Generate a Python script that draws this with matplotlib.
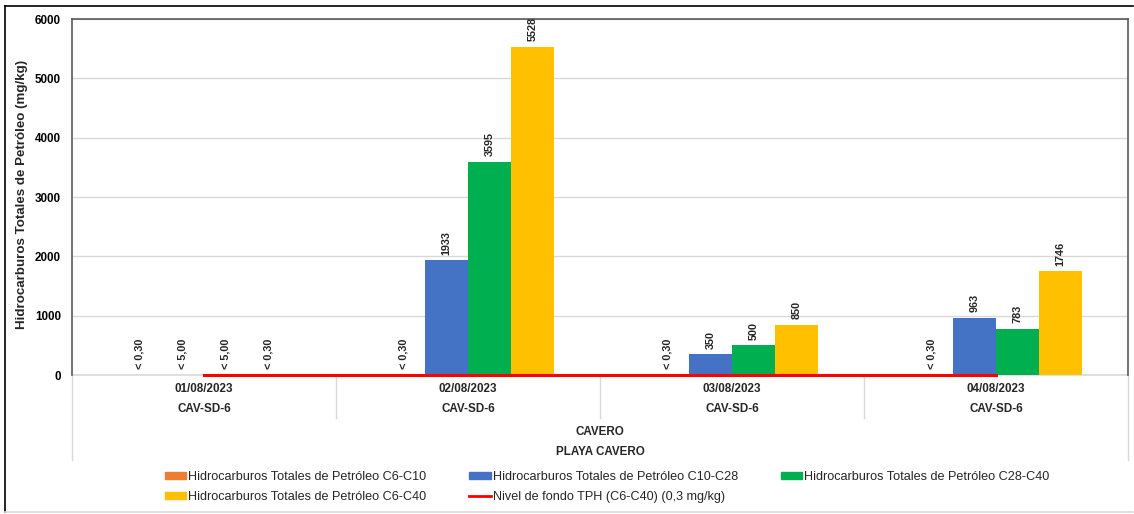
import matplotlib
matplotlib.use("Agg")
import matplotlib.pyplot as plt
from matplotlib.patches import Patch
from matplotlib.lines import Line2D
import numpy as np

plt.rcParams['font.family'] = ['Liberation Sans', 'DejaVu Sans']

# data
dates = ['01/08/2023', '02/08/2023', '03/08/2023', '04/08/2023']
stations = ['CAV-SD-6', 'CAV-SD-6', 'CAV-SD-6', 'CAV-SD-6']
zone = 'CAVERO'
beach = 'PLAYA CAVERO'

series_names = ['Hidrocarburos Totales de Petróleo C6-C10',
                'Hidrocarburos Totales de Petróleo C10-C28',
                'Hidrocarburos Totales de Petróleo C28-C40',
                'Hidrocarburos Totales de Petróleo C6-C40']
c6_c10 = [0, 0, 0, 0]
c10_c28 = [0, 1933, 350, 963]
c28_c40 = [0, 3595, 500, 783]
c6_c40 = [0, 5528, 850, 1746]

lbl_c6_c10 = ['< 0,30', '< 0,30', '< 0,30', '< 0,30']
lbl_c10_c28 = ['< 5,00', '1933', '350', '963']
lbl_c28_c40 = ['< 5,00', '3595', '500', '783']
lbl_c6_c40 = ['< 0,30', '5528', '850', '1746']

background_name = 'Nivel de fondo TPH (C6-C40) (0,3 mg/kg)'
background = [0.3, 0.3, 0.3, 0.3]

colors = ['#ED7D31', '#4472C4', '#00B050', '#FFC000']

W, H = 1134, 514
fig = plt.figure(figsize=(W / 100, H / 100), dpi=100)
ax = fig.add_axes([72 / W, 1 - 375 / H, (1128 - 72) / W, (375 - 19) / H])

x = np.arange(len(dates))
bw = 0.163
all_vals = [c6_c10, c10_c28, c28_c40, c6_c40]
all_lbls = [lbl_c6_c10, lbl_c10_c28, lbl_c28_c40, lbl_c6_c40]
for i, (vals, lbls) in enumerate(zip(all_vals, all_lbls)):
    pos = x + (i - 1.5) * bw
    ax.bar(pos, vals, bw, color=colors[i], zorder=2)
    for px, v, t in zip(pos, vals, lbls):
        ax.annotate(t, (px, v), xytext=(0, 4), textcoords='offset points',
                    rotation=90, ha='center', va='bottom', fontsize=7.8,
                    fontweight='bold', color='#262626', zorder=4)

ax.plot(x, background, color='#FF0000', lw=2.2, zorder=3, clip_on=False)

ax.set_xlim(-0.5, 3.5)
ax.set_ylim(0, 6000)
ax.set_yticks(np.arange(0, 6001, 1000))
ax.set_yticklabels([str(v) for v in range(0, 6001, 1000)], fontsize=8.4, fontweight='bold')
ax.tick_params(axis='y', length=0, pad=8)
ax.set_xticks([])
ax.grid(axis='y', color='#d9d9d9', lw=1, zorder=0)
for s in ['left', 'top', 'right']:
    ax.spines[s].set_color('#595959')
    ax.spines[s].set_linewidth(1.2)
ax.spines['bottom'].set_color('#d9d9d9')
ax.spines['bottom'].set_linewidth(1.2)
ax.spines['bottom'].set_zorder(1)

# multi-level category axis
tr = ax.get_xaxis_transform()
ah = 375 - 19
for xi, d, s in zip(x, dates, stations):
    ax.text(xi, -(389 - 375) / ah, d, transform=tr, ha='center', va='center',
            fontsize=8.4, fontweight='bold', color='#262626')
    ax.text(xi, -(409 - 375) / ah, s, transform=tr, ha='center', va='center',
            fontsize=8.4, fontweight='bold', color='#262626')
ax.text(1.5, -(432 - 375) / ah, zone, transform=tr, ha='center', va='center',
        fontsize=8.4, fontweight='bold', color='#262626')
ax.text(1.5, -(452 - 375) / ah, beach, transform=tr, ha='center', va='center',
        fontsize=8.4, fontweight='bold', color='#262626')
for b in [0.5, 1.5, 2.5]:
    ax.plot([b, b], [0, -(418 - 375) / ah], transform=tr, color='#d9d9d9',
            lw=1, clip_on=False)
for b in [-0.5, 3.5]:
    ax.plot([b, b], [0, -(460 - 375) / ah], transform=tr, color='#d9d9d9',
            lw=1, clip_on=False)

fig.text(22 / W, 1 - 194 / H, 'Hidrocarburos Totales de Petróleo (mg/kg)',
         rotation=90, ha='center', va='center', fontsize=9.6, fontweight='bold',
         color='#262626')

# legend (row-major order)
h = [Patch(color=colors[0]), Patch(color=colors[3]),
     Patch(color=colors[1]), Line2D([], [], color='#FF0000', lw=2),
     Patch(color=colors[2])]
l = [series_names[0], series_names[3], series_names[1], background_name, series_names[2]]
fig.legend(h, l, ncol=3, loc='center', bbox_to_anchor=(607 / W, 1 - 487 / H),
           frameon=False, fontsize=9.1, handlelength=1.7, handleheight=0.45,
           handletextpad=0.15, columnspacing=3.4, labelspacing=0.62,
           labelcolor='#262626')

# outer chart border
fig.add_artist(Line2D([5 / W, 1133 / W], [1 - 6 / H, 1 - 6 / H], color='black', lw=1.2))
fig.add_artist(Line2D([5 / W, 5 / W], [1 - 6 / H, 1 - 512 / H], color='black', lw=1.2))
fig.add_artist(Line2D([5 / W, 1133 / W], [1 - 512 / H, 1 - 512 / H], color='#d9d9d9', lw=1.2))

fig.savefig('out.png', dpi=100)
